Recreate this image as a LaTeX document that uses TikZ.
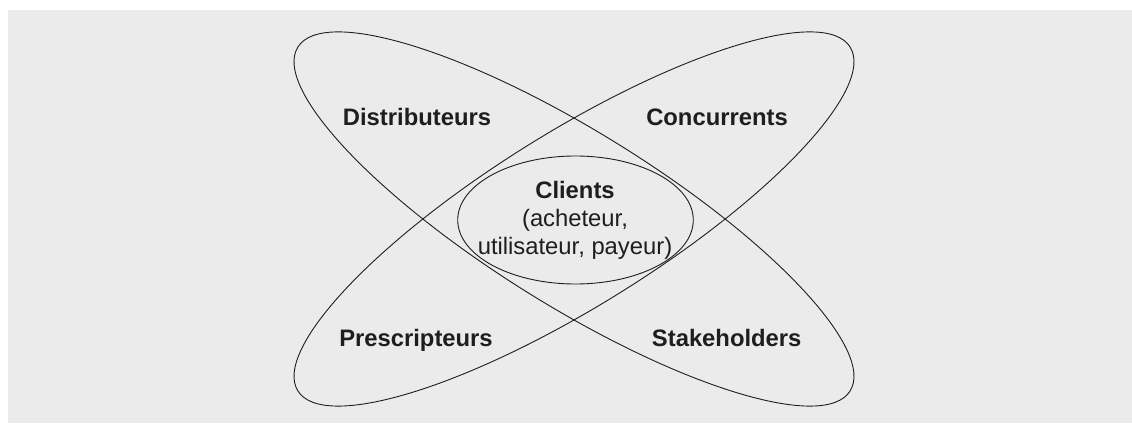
\documentclass[tikz,border=0pt]{standalone}
\usepackage{fontspec}
\setmainfont{Liberation Sans}
\usetikzlibrary{shapes.geometric}
\definecolor{bggray}{HTML}{EBEBEB}
\definecolor{inkc}{HTML}{1E1E1E}
\begin{document}
\begin{tikzpicture}[x=1pt,y=1pt,
  lobe/.style={draw=inkc, line width=0.9pt, ellipse, inner sep=0pt, outer sep=0pt},
  lbl/.style={text=inkc, font=\fontsize{23.8}{28}\selectfont\bfseries, inner sep=0pt, anchor=base},
  centerlbl/.style={text=inkc, font=\fontsize{23.8}{28}\selectfont, inner sep=0pt, align=center}
]
\useasboundingbox (0,0) rectangle (1132,423);
\fill[white] (0,0) rectangle (1132,423);
\fill[bggray] (8,0) rectangle (1132,413);

\node[lobe, minimum width=650.6pt, minimum height=173.8pt, rotate=-31.9] (ds) at (574,204) {};
\node[lobe, minimum width=650.6pt, minimum height=173.8pt, rotate=31.9] (ps) at (574,204) {};
\node[lobe, minimum width=235.6pt, minimum height=128pt] (cl) at (575.5,203) {};

\node[lbl] (dist) at (417,297) {Distributeurs};
\node[lbl] (conc) at (717,297) {Concurrents};
\node[lbl] (pres) at (416,76.3) {Prescripteurs};
\node[lbl] (stak) at (726.7,76.3) {Stakeholders};
\node[centerlbl] (clt) at (575,202.2) {\textbf{Clients}\\(acheteur,\\utilisateur, payeur)};
\end{tikzpicture}
\end{document}
